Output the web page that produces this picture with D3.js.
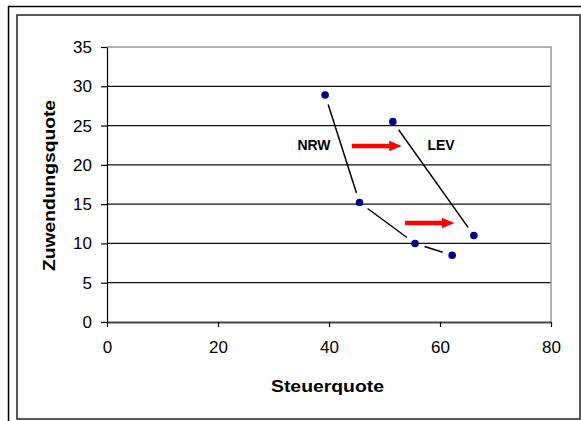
<!DOCTYPE html>
<html>
<head>
<meta charset="utf-8">
<script src="https://cdn.jsdelivr.net/npm/d3@7/dist/d3.min.js"></script>
<style>
  html, body { margin: 0; padding: 0; background: #fff; }
  svg { display: block; }
  text { font-family: "Liberation Sans", Arial, sans-serif; }
</style>
</head>
<body>
<svg id="chart" width="581" height="421"></svg>
<script>
// ---- data ----
const xTicks = [0, 20, 40, 60, 80];
const yTicks = [0, 5, 10, 15, 20, 25, 30, 35];
const nrwX = [39.3, 45.5, 55.5, 62.2];
const nrwY = [28.9, 15.2, 10.0, 8.5];
const levX = [51.5, 66.1];
const levY = [25.5, 11.0];
const arrowStartX = [44.1, 53.7];
const arrowEndX = [53.1, 62.6];
const arrowY = [22.4, 12.6];
const labelText = ["NRW", "LEV"];
const labelX = [37.3, 60.2];
const labelY = [22.5, 22.5];
const xTitle = "Steuerquote";
const yTitle = "Zuwendungsquote";

// ---- layout ----
const svg = d3.select("#chart");
const pLeft = 107, pRight = 551, pTop = 47, pBottom = 322;
const x = d3.scaleLinear().domain([0, 80]).range([pLeft, pRight]);
const y = d3.scaleLinear().domain([0, 35]).range([pBottom, pTop]);

// frames
svg.append("line").attr("x1", 8).attr("y1", 6.5).attr("x2", 581).attr("y2", 6.5)
  .attr("stroke", "#000").attr("stroke-width", 1.5);
svg.append("line").attr("x1", 8.5).attr("y1", 6).attr("x2", 8.5).attr("y2", 421)
  .attr("stroke", "#000").attr("stroke-width", 1.5);
svg.append("rect").attr("x", 17).attr("y", 15).attr("width", 563).attr("height", 404)
  .attr("fill", "none").attr("stroke", "#222").attr("stroke-width", 1.5);

// gridlines
svg.append("g").selectAll("line")
  .data(yTicks.filter(v => v > 0 && v < 35))
  .join("line")
  .attr("x1", pLeft).attr("x2", pRight)
  .attr("y1", d => y(d)).attr("y2", d => y(d))
  .attr("stroke", "#111").attr("stroke-width", 1.2);

// plot border top/right
svg.append("path")
  .attr("d", `M${pLeft},${y(35)}H${pRight}V${pBottom}`)
  .attr("fill", "none").attr("stroke", "#999").attr("stroke-width", 1.5);

// axes
const yAxis = svg.append("g").attr("transform", `translate(${pLeft},0)`)
  .call(d3.axisLeft(y).tickValues(yTicks).tickSize(6).tickSizeOuter(0).tickPadding(9));
yAxis.select(".domain").attr("stroke", "#000").attr("stroke-width", 1.2);
yAxis.selectAll(".tick line").attr("stroke", "#000").attr("stroke-width", 1.2);
yAxis.selectAll(".tick text").attr("font-size", 17).attr("fill", "#000")
  .attr("font-family", "Liberation Sans, Arial, sans-serif");

const xAxis = svg.append("g").attr("transform", `translate(0,${pBottom})`)
  .call(d3.axisBottom(x).tickValues(xTicks).tickSize(5).tickSizeOuter(0).tickPadding(14));
xAxis.select(".domain").attr("stroke", "#444").attr("stroke-width", 2);
xAxis.selectAll(".tick line").attr("stroke", "#000").attr("stroke-width", 1.2);
xAxis.selectAll(".tick text").attr("font-size", 17).attr("fill", "#000")
  .attr("font-family", "Liberation Sans, Arial, sans-serif");

// axis titles
svg.append("text").attr("x", 327.5).attr("y", 392)
  .attr("text-anchor", "middle").attr("font-weight", "bold").attr("font-size", 16)
  .attr("textLength", 113).attr("lengthAdjust", "spacingAndGlyphs")
  .text(xTitle);
svg.append("text").attr("transform", "translate(55,185.5) rotate(-90)")
  .attr("text-anchor", "middle").attr("font-weight", "bold").attr("font-size", 16)
  .attr("textLength", 171).attr("lengthAdjust", "spacingAndGlyphs")
  .text(yTitle);

// connecting segments with gaps
function segments(xs, ys, gap) {
  const segs = [];
  for (let i = 0; i < xs.length - 1; i++) {
    const x1 = x(xs[i]), y1 = y(ys[i]), x2 = x(xs[i + 1]), y2 = y(ys[i + 1]);
    const len = Math.hypot(x2 - x1, y2 - y1);
    const ux = (x2 - x1) / len, uy = (y2 - y1) / len;
    segs.push([x1 + ux * gap, y1 + uy * gap, x2 - ux * gap, y2 - uy * gap]);
  }
  return segs;
}
const segs = segments(nrwX, nrwY, 10).concat(segments(levX, levY, 10));
svg.append("g").selectAll("line").data(segs).join("line")
  .attr("x1", d => d[0]).attr("y1", d => d[1])
  .attr("x2", d => d[2]).attr("y2", d => d[3])
  .attr("stroke", "#000").attr("stroke-width", 1.5);

// points
const pts = nrwX.map((v, i) => [v, nrwY[i]]).concat(levX.map((v, i) => [v, levY[i]]));
svg.append("g").selectAll("circle").data(pts).join("circle")
  .attr("cx", d => x(d[0])).attr("cy", d => y(d[1])).attr("r", 3.8)
  .attr("fill", "#000080");

// arrows
svg.append("g").selectAll("path").data(arrowY.map((v, i) => [arrowStartX[i], arrowEndX[i], v]))
  .join("path")
  .attr("d", d => {
    const x1 = x(d[0]), x2 = x(d[1]), yc = y(d[2]);
    const hl = 12.5, sh = 2.2, hh = 5.2;
    return `M${x1},${yc - sh}H${x2 - hl}V${yc - hh}L${x2},${yc}L${x2 - hl},${yc + hh}V${yc + sh}H${x1}Z`;
  })
  .attr("fill", "#ff0000");

// labels
svg.append("g").selectAll("text").data(labelText).join("text")
  .attr("x", (d, i) => x(labelX[i])).attr("y", (d, i) => y(labelY[i]) + 5)
  .attr("text-anchor", "middle").attr("font-weight", "bold").attr("font-size", 14)
  .attr("fill", "#000")
  .text(d => d);
</script>
</body>
</html>
